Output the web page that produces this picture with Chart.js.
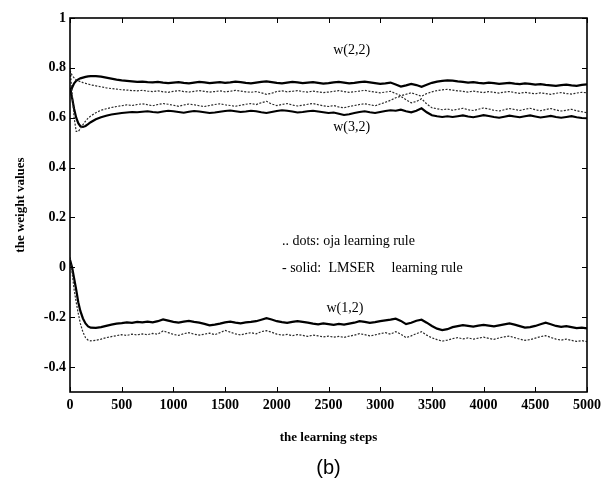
<!DOCTYPE html>
<html>
<head>
<meta charset="utf-8">
<script src="https://cdn.jsdelivr.net/npm/chart.js@4.4.1/dist/chart.umd.min.js"></script>
<style>
html,body{margin:0;padding:0;background:#fff;}
#wrap{width:603px;height:484px;}
</style>
</head>
<body>
<div id="wrap"><canvas id="c" width="603" height="484"></canvas></div>
<script>
const steps = [0,20,40,60,80,100,125,150,175,200,
 250,300,350,400,450,500,550,600,650,700,
 750,800,850,900,950,1000,1050,1100,1150,1200,
 1250,1300,1350,1400,1450,1500,1550,1600,1650,1700,
 1750,1800,1850,1900,1950,2000,2050,2100,2150,2200,
 2250,2300,2350,2400,2450,2500,2550,2600,2650,2700,
 2750,2800,2850,2900,2950,3000,3050,3100,3150,3200,
 3250,3300,3350,3400,3450,3500,3550,3600,3650,3700,
 3750,3800,3850,3900,3950,4000,4050,4100,4150,4200,
 4250,4300,4350,4400,4450,4500,4550,4600,4650,4700,
 4750,4800,4850,4900,4950,5000];

const w22Solid = [0.700,0.720,0.738,0.748,0.754,0.758,0.761,0.764,0.766,0.767,
 0.767,0.765,0.761,0.757,0.753,0.750,0.748,0.746,0.744,0.745,
 0.743,0.742,0.744,0.741,0.739,0.741,0.743,0.740,0.738,0.741,
 0.744,0.742,0.739,0.741,0.743,0.740,0.742,0.745,0.743,0.740,
 0.738,0.741,0.744,0.746,0.743,0.740,0.738,0.741,0.744,0.742,
 0.739,0.741,0.743,0.740,0.737,0.739,0.742,0.744,0.741,0.738,
 0.740,0.743,0.745,0.742,0.739,0.736,0.738,0.741,0.733,0.725,
 0.730,0.736,0.731,0.724,0.732,0.740,0.745,0.748,0.750,0.749,
 0.746,0.744,0.741,0.743,0.740,0.738,0.741,0.739,0.736,0.738,
 0.740,0.737,0.735,0.738,0.736,0.733,0.735,0.732,0.730,0.728,
 0.731,0.733,0.730,0.728,0.732,0.734];

const w22Dots = [0.790,0.770,0.760,0.752,0.748,0.745,0.741,0.738,0.735,0.732,
 0.728,0.724,0.720,0.717,0.715,0.712,0.711,0.709,0.708,0.710,
 0.707,0.705,0.708,0.704,0.702,0.706,0.709,0.705,0.703,0.706,
 0.709,0.706,0.703,0.705,0.708,0.704,0.706,0.710,0.707,0.704,
 0.702,0.705,0.700,0.694,0.698,0.705,0.708,0.704,0.706,0.709,
 0.705,0.703,0.707,0.704,0.701,0.703,0.706,0.709,0.705,0.702,
 0.704,0.707,0.710,0.706,0.703,0.700,0.703,0.706,0.697,0.688,
 0.694,0.700,0.693,0.686,0.697,0.704,0.709,0.712,0.714,0.711,
 0.708,0.706,0.703,0.707,0.704,0.701,0.705,0.702,0.699,0.703,
 0.705,0.701,0.698,0.702,0.699,0.696,0.700,0.697,0.694,0.698,
 0.701,0.697,0.695,0.699,0.702,0.700];

const w32Solid = [0.720,0.680,0.635,0.600,0.578,0.566,0.563,0.567,0.574,0.582,
 0.594,0.602,0.608,0.613,0.616,0.619,0.621,0.623,0.622,0.624,
 0.626,0.623,0.621,0.625,0.628,0.626,0.623,0.620,0.624,0.627,
 0.625,0.622,0.619,0.621,0.624,0.627,0.629,0.626,0.623,0.625,
 0.628,0.626,0.622,0.619,0.623,0.627,0.630,0.628,0.625,0.621,
 0.623,0.626,0.628,0.625,0.622,0.619,0.621,0.616,0.611,0.614,
 0.619,0.623,0.626,0.622,0.619,0.623,0.627,0.630,0.628,0.632,
 0.626,0.622,0.628,0.638,0.622,0.610,0.606,0.603,0.606,0.603,
 0.606,0.609,0.605,0.602,0.606,0.610,0.607,0.603,0.600,0.604,
 0.608,0.605,0.602,0.606,0.609,0.605,0.601,0.604,0.607,0.603,
 0.600,0.603,0.606,0.602,0.599,0.598];

const w32Dots = [0.800,0.700,0.600,0.545,0.545,0.556,0.572,0.586,0.598,0.607,
 0.620,0.630,0.636,0.641,0.645,0.648,0.652,0.649,0.653,0.656,
 0.652,0.648,0.653,0.657,0.654,0.650,0.646,0.651,0.655,0.652,
 0.648,0.645,0.649,0.653,0.656,0.652,0.649,0.646,0.650,0.654,
 0.657,0.653,0.660,0.666,0.655,0.649,0.653,0.657,0.651,0.647,
 0.650,0.654,0.657,0.652,0.648,0.645,0.649,0.643,0.640,0.645,
 0.649,0.653,0.656,0.652,0.648,0.655,0.662,0.670,0.680,0.686,
 0.672,0.660,0.665,0.676,0.655,0.640,0.636,0.632,0.635,0.630,
 0.634,0.638,0.632,0.629,0.634,0.639,0.635,0.630,0.627,0.632,
 0.637,0.633,0.629,0.634,0.638,0.632,0.628,0.633,0.637,0.631,
 0.627,0.630,0.634,0.628,0.624,0.620];

const w12Solid = [0.030,0.000,-0.045,-0.090,-0.140,-0.175,-0.205,-0.225,-0.237,-0.242,
 -0.243,-0.240,-0.235,-0.230,-0.226,-0.224,-0.221,-0.223,-0.219,-0.221,
 -0.218,-0.221,-0.216,-0.209,-0.214,-0.219,-0.222,-0.218,-0.215,-0.219,
 -0.222,-0.227,-0.233,-0.230,-0.226,-0.221,-0.218,-0.222,-0.225,-0.221,
 -0.219,-0.216,-0.210,-0.204,-0.209,-0.216,-0.220,-0.223,-0.219,-0.216,
 -0.219,-0.222,-0.226,-0.229,-0.225,-0.228,-0.231,-0.227,-0.230,-0.226,
 -0.222,-0.216,-0.219,-0.223,-0.220,-0.216,-0.213,-0.210,-0.206,-0.215,
 -0.228,-0.222,-0.214,-0.210,-0.222,-0.235,-0.246,-0.252,-0.248,-0.240,
 -0.236,-0.232,-0.235,-0.238,-0.234,-0.231,-0.234,-0.237,-0.233,-0.229,
 -0.225,-0.230,-0.236,-0.242,-0.240,-0.235,-0.228,-0.222,-0.228,-0.235,
 -0.239,-0.236,-0.240,-0.244,-0.242,-0.245];

const w12Dots = [0.040,-0.020,-0.090,-0.140,-0.185,-0.225,-0.260,-0.282,-0.292,-0.295,
 -0.293,-0.288,-0.282,-0.278,-0.274,-0.270,-0.273,-0.268,-0.271,-0.267,
 -0.270,-0.265,-0.268,-0.255,-0.262,-0.269,-0.273,-0.266,-0.262,-0.268,
 -0.272,-0.268,-0.264,-0.270,-0.262,-0.253,-0.260,-0.267,-0.271,-0.266,
 -0.262,-0.267,-0.258,-0.254,-0.260,-0.268,-0.272,-0.269,-0.274,-0.270,
 -0.273,-0.277,-0.272,-0.275,-0.279,-0.276,-0.280,-0.277,-0.281,-0.276,
 -0.272,-0.266,-0.270,-0.275,-0.271,-0.266,-0.262,-0.268,-0.258,-0.268,
 -0.282,-0.275,-0.266,-0.258,-0.272,-0.283,-0.290,-0.296,-0.292,-0.286,
 -0.282,-0.287,-0.283,-0.288,-0.284,-0.280,-0.285,-0.289,-0.283,-0.279,
 -0.276,-0.282,-0.288,-0.293,-0.290,-0.284,-0.278,-0.274,-0.281,-0.288,
 -0.292,-0.288,-0.293,-0.297,-0.294,-0.298];

const yTickValues = [1, 0.8, 0.6, 0.4, 0.2, 0, -0.2, -0.4];
const yTickLabels = ['1', '0.8', '0.6', '0.4', '0.2', '0', '-0.2', '-0.4'];
const xTickValues = [0,500,1000,1500,2000,2500,3000,3500,4000,4500,5000];

const xTitle = 'the learning steps';
const yTitle = 'the weight values';
const panelLabel = '(b)';

// text notes placed in data coordinates
const notes = [
  {text: 'w(2,2)', x: 2545, y: 0.872},
  {text: 'w(3,2)', x: 2545, y: 0.563},
  {text: 'w(1,2)', x: 2480, y: -0.163},
  {text: '.. dots: oja learning rule', x: 2050, y: 0.106},
  {text: '- solid:', x: 2050, y: -0.003},
  {text: 'LMSER', x: 2500, y: -0.003},
  {text: 'learning rule', x: 3110, y: -0.003}
];

function pts(vals){ return steps.map((s,i)=>({x:s, y:vals[i]})); }

const dotStyle = {borderColor:'#2a2a2a', borderWidth:1.2, borderDash:[2,1.5], pointRadius:0, tension:0, fill:false};
const solidStyle = {borderColor:'#000', borderWidth:2.2, pointRadius:0, tension:0, fill:false};

const serif = '"Liberation Serif", "Times New Roman", serif';

const decor = {
  id:'decor',
  afterDatasetsDraw(chart){
    const {ctx, chartArea:a, scales:{x, y}} = chart;
    ctx.save();
    ctx.strokeStyle = '#000';
    ctx.lineWidth = 1;
    ctx.beginPath();
    xTickValues.forEach(v=>{
      const px = Math.round(x.getPixelForValue(v))+0.5;
      ctx.moveTo(px, a.bottom); ctx.lineTo(px, a.bottom-5);
      ctx.moveTo(px, a.top); ctx.lineTo(px, a.top+5);
    });
    yTickValues.forEach(v=>{
      const py = Math.round(y.getPixelForValue(v))+0.5;
      ctx.moveTo(a.left, py); ctx.lineTo(a.left+5, py);
      ctx.moveTo(a.right, py); ctx.lineTo(a.right-5, py);
    });
    ctx.stroke();
    ctx.lineWidth = 1.6;
    ctx.strokeRect(a.left, a.top, a.right-a.left, a.bottom-a.top);
    ctx.fillStyle = '#000';
    ctx.font = '14px ' + serif;
    ctx.textAlign = 'left';
    ctx.textBaseline = 'middle';
    notes.forEach(n=>{
      ctx.fillText(n.text, x.getPixelForValue(n.x), y.getPixelForValue(n.y));
    });
    ctx.font = '20px "Liberation Sans", Arial, sans-serif';
    ctx.textAlign = 'center';
    ctx.fillText(panelLabel, (a.left+a.right)/2, 468);
    ctx.restore();
  }
};

new Chart(document.getElementById('c'), {
  type:'line',
  data:{
    datasets:[
      Object.assign({label:'w22 oja', data:pts(w22Dots)}, dotStyle),
      Object.assign({label:'w32 oja', data:pts(w32Dots)}, dotStyle),
      Object.assign({label:'w12 oja', data:pts(w12Dots)}, dotStyle),
      Object.assign({label:'w22 lmser', data:pts(w22Solid)}, solidStyle),
      Object.assign({label:'w32 lmser', data:pts(w32Solid)}, solidStyle),
      Object.assign({label:'w12 lmser', data:pts(w12Solid)}, solidStyle)
    ]
  },
  options:{
    responsive:false,
    animation:false,
    layout:{padding:{left:0, top:18, right:16, bottom:0}},
    plugins:{legend:{display:false}, tooltip:{enabled:false}},
    scales:{
      x:{
        type:'linear', min:0, max:5000,
        afterBuildTicks(s){ s.ticks = xTickValues.map(v=>({value:v})); },
        afterFit(s){ s.height = 92; s.paddingLeft = 0; s.paddingRight = 0; },
        grid:{display:false, drawTicks:false},
        border:{display:false},
        ticks:{color:'#000', padding:5, maxRotation:0, autoSkip:false,
               font:{family:serif, size:14, weight:'bold'},
               callback:(v)=>String(v)},
        title:{display:true, text:xTitle, color:'#000',
               font:{family:serif, size:13, weight:'bold'},
               padding:{top:0, bottom:39}}
      },
      y:{
        type:'linear', min:-0.5, max:1,
        afterBuildTicks(s){ s.ticks = yTickValues.map(v=>({value:v})); },
        afterFit(s){ s.width = 70; s.paddingTop = 0; s.paddingBottom = 0; },
        grid:{display:false, drawTicks:false},
        border:{display:false},
        ticks:{color:'#000', padding:4, autoSkip:false,
               font:{family:serif, size:14, weight:'bold'},
               callback:(v)=>{ const i = yTickValues.indexOf(v); return i>=0 ? yTickLabels[i] : ''; }},
        title:{display:true, text:yTitle, color:'#000',
               font:{family:serif, size:13, weight:'bold'},
               padding:{top:13, bottom:0}}
      }
    }
  },
  plugins:[decor]
});
</script>
</body>
</html>
